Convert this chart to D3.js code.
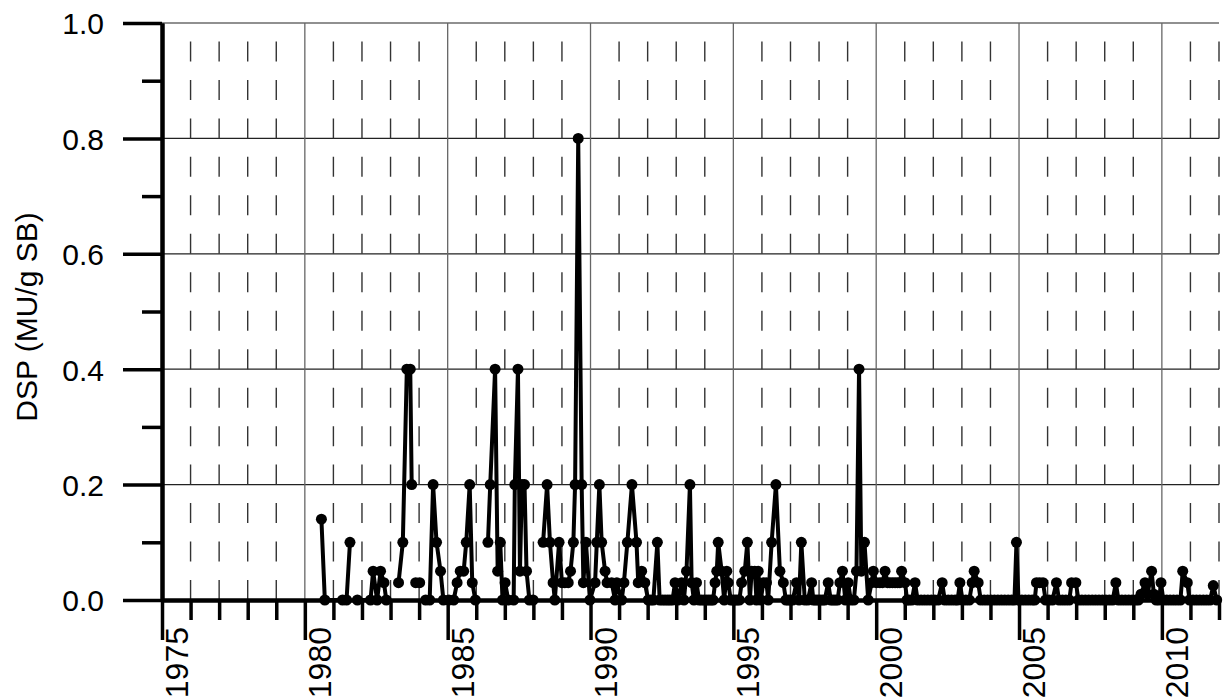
<!DOCTYPE html>
<html><head><meta charset="utf-8">
<script src="https://cdn.jsdelivr.net/npm/d3@7"></script>
<style>
html,body{margin:0;padding:0;background:#fff;}
text{font-family:"Liberation Sans",Arial,sans-serif;fill:#000;}
</style></head>
<body><svg id="chart" width="1227" height="698"></svg>
<script>
// ---- data: [decimal year, DSP (MU/g SB)]; null value = gap in the record ----
const early = [[1980.58,0.14],[1980.70,0],[1981.32,0],[1981.46,0],[1981.58,0.1],[1981.70,null],
[1981.84,0],[1982.30,0],[1982.39,0.05],[1982.53,0],[1982.65,0.05],[1982.77,0.03],[1982.85,0],[1983.00,null],
[1983.28,0.03],[1983.43,0.1],[1983.57,0.4],[1983.69,0.4],[1983.74,0.2],[1983.80,null],
[1983.88,0.03],[1984.02,0.03],[1984.10,null],
[1984.23,0],[1984.37,0],[1984.49,0.2],[1984.61,0.1],[1984.75,0.05],[1984.85,0],[1985.04,0],[1985.21,0],
[1985.33,0.03],[1985.44,0.05],[1985.56,0.05],[1985.65,0.1],[1985.77,0.2],[1985.86,0.03],[1985.97,0],[1986.20,null],
[1986.41,0.1],[1986.49,0.2],[1986.66,0.4],[1986.75,0.05],[1986.84,0.1],[1986.92,0],[1987.01,0.03],[1987.12,0],
[1987.31,0],[1987.35,0.2],[1987.46,0.4],[1987.53,0.05],[1987.60,0.2],[1987.69,0.2],[1987.76,0.05],[1987.86,0],
[1987.99,0],[1988.15,null]];
const middle = [[1988.34,0.1],[1988.48,0.2],[1988.58,0.1],[1988.69,0.03],[1988.75,0],[1988.90,0.1],[1989.00,0.03],
[1989.10,0.03],[1989.22,0.03],[1989.30,0.05],[1989.40,0.1],[1989.46,0.2],[1989.57,0.8],[1989.69,0.2],[1989.75,0.03],
[1989.84,0.1],[1989.98,0],[1990.16,0.03],[1990.22,0.1],[1990.31,0.2],[1990.39,0.1],[1990.51,0.05],[1990.58,0.03],
[1990.74,0.03],[1990.86,0],[1990.92,0.03],[1991.09,0],[1991.17,0.03],[1991.29,0.1],[1991.45,0.2],[1991.61,0.1],
[1991.67,0.03],[1991.79,0.05],[1991.90,0.03],[1992.02,0],[1992.11,0],[1992.20,0],[1992.34,0.1],[1992.42,0],
[1992.52,0],[1992.61,0],[1992.70,0],[1992.78,0],[1992.87,0],[1992.96,0.03],[1993.06,0],[1993.19,0.03],[1993.27,0],
[1993.36,0.05],[1993.48,0.2],[1993.54,0.03],[1993.62,0],[1993.71,0.03],[1993.80,0],[1993.89,0],[1993.98,0],
[1994.06,0],[1994.14,0],[1994.22,0],[1994.29,0],[1994.36,0.03],[1994.42,0.05],[1994.47,0.1],[1994.59,0.05],
[1994.68,0],[1994.77,0.05],[1994.82,0.03],[1994.91,0],[1994.99,0],[1995.06,0],[1995.13,0],[1995.21,0],
[1995.29,0.03],[1995.40,0.05],[1995.49,0.1],[1995.58,0],[1995.64,0.05],[1995.75,0.05],[1995.81,0],[1995.87,0.05],
[1995.96,0],[1996.05,0.03],[1996.16,0.03],[1996.22,0],[1996.34,0.1],[1996.49,0.2],[1996.63,0.05],[1996.75,0.03],
[1996.84,0],[1996.92,0],[1997.00,0],[1997.08,0],[1997.21,0.03],[1997.30,0],[1997.38,0.1],[1997.50,0],[1997.61,0],
[1997.74,0.03],[1997.80,0],[1997.88,0],[1997.96,0],[1998.04,0],[1998.12,0],[1998.20,0],[1998.32,0.03],[1998.41,0],
[1998.49,0],[1998.57,0],[1998.65,0],[1998.73,0.03],[1998.82,0.05],[1998.92,0],[1999.02,0.03],[1999.11,0],
[1999.22,0],[1999.31,0.05],[1999.40,0.4],[1999.48,0.05],[1999.59,0.1],[1999.72,0],[1999.84,0.03],[1999.90,0.05]];
const late = [[2000.01,0.03],[2000.13,0.03],[2000.22,0.03],[2000.31,0.05],[2000.40,0.03],[2000.48,0.03],
[2000.57,0.03],[2000.66,0.03],[2000.75,0.03],[2000.83,0.03],[2000.89,0.05],[2001.01,0.03],[2001.08,0],[2001.15,0],
[2001.25,0],[2001.36,0.03],[2001.45,0],[2001.57,0],[2001.69,0],[2001.81,0],[2001.93,0],[2002.05,0],[2002.17,0],
[2002.31,0.03],[2002.40,0],[2002.52,0],[2002.64,0],[2002.76,0],[2002.85,0],[2002.93,0.03],[2003.02,0],[2003.14,0],
[2003.26,0],[2003.36,0.03],[2003.43,0.05],[2003.57,0.03],[2003.66,0],[2003.78,0],[2003.90,0],[2004.02,0],
[2004.14,0],[2004.26,0],[2004.38,0],[2004.50,0],[2004.62,0],[2004.74,0],[2004.84,0],[2004.91,0.1],[2004.98,0],
[2005.10,0],[2005.22,0],[2005.34,0],[2005.46,0],[2005.55,0],[2005.61,0.03],[2005.72,0.03],[2005.84,0.03],
[2005.93,0],[2006.05,0],[2006.17,0],[2006.31,0.03],[2006.40,0],[2006.52,0],[2006.64,0],[2006.76,0],[2006.84,0.03],
[2006.99,0.03],[2007.08,0],[2007.20,0],[2007.32,0],[2007.44,0],[2007.56,0],[2007.68,0],[2007.80,0],[2007.92,0],
[2008.04,0],[2008.16,0],[2008.28,0],[2008.39,0.03],[2008.48,0],[2008.60,0],[2008.72,0],[2008.84,0],[2008.96,0],
[2009.08,0],[2009.18,0],[2009.27,0.01],[2009.41,0.03],[2009.50,0.01],[2009.64,0.05],[2009.72,0.01],[2009.80,0],
[2009.90,0],[2009.97,0.03],[2010.05,0],[2010.17,0],[2010.29,0],[2010.41,0],[2010.53,0],[2010.65,0],[2010.73,0.05],
[2010.89,0.03],[2010.97,0],[2011.09,0],[2011.21,0],[2011.33,0],[2011.45,0],[2011.57,0],[2011.69,0],[2011.80,0.025],
[2011.92,0]];

const majorYears = [1975,1980,1985,1990,1995,2000,2005,2010];
const minorYears = [1976,1977,1978,1979,1981,1982,1983,1984,1986,1987,1988,1989,1991,1992,1993,1994,
  1996,1997,1998,1999,2001,2002,2003,2004,2006,2007,2008,2009,2011,2012];
const majorY = [0,0.2,0.4,0.6,0.8,1.0];
const minorY = [0.1,0.3,0.5,0.7,0.9];
const yTitle = "DSP (MU/g SB)";

// ---- drawing ----
const svg = d3.select("#chart");
const x = d3.scaleLinear().domain([1975, 2012]).range([162, 1219]);
const y = d3.scaleLinear().domain([0, 1]).range([600, 23]);
const series = early.concat(middle, late);

const g = svg.append("g");
// horizontal grid
g.selectAll(".hg").data(majorY.filter(v => v > 0)).join("line")
  .attr("x1", x(1975)).attr("x2", x(2012)).attr("y1", d => y(d)).attr("y2", d => y(d))
  .attr("stroke", "#222").attr("stroke-width", 1.2);
// vertical major grid
g.selectAll(".vg").data(majorYears.filter(v => v > 1975)).join("line")
  .attr("x1", d => x(d)).attr("x2", d => x(d)).attr("y1", y(0)).attr("y2", y(1))
  .attr("stroke", "#666").attr("stroke-width", 1.3);
// vertical dashed minor grid (drawn upward from the zero line)
const period = (y(0) - y(1)) / 15;
g.selectAll(".vd").data(minorYears).join("path")
  .attr("d", d => `M${x(d)},${y(0)}L${x(d)},${y(1)}`)
  .attr("stroke", "#333").attr("stroke-width", 1.4)
  .attr("stroke-dasharray", `20,${period - 20}`);

// axes
const xMajor = svg.append("g").attr("transform", `translate(0,${y(0)})`)
  .call(d3.axisBottom(x).tickValues(majorYears).tickSize(40).tickSizeOuter(0).tickFormat(""));
const xMinor = svg.append("g").attr("transform", `translate(0,${y(0)})`)
  .call(d3.axisBottom(x).tickValues(minorYears).tickSize(20).tickSizeOuter(0).tickFormat(""));
const yMajor = svg.append("g").attr("transform", `translate(${x(1975)},0)`)
  .call(d3.axisLeft(y).tickValues(majorY).tickSize(39).tickSizeOuter(0).tickPadding(19)
    .tickFormat(d3.format(".1f")));
const yMinor = svg.append("g").attr("transform", `translate(${x(1975)},0)`)
  .call(d3.axisLeft(y).tickValues(minorY).tickSize(20).tickSizeOuter(0).tickFormat(""));
[xMajor, xMinor, yMajor, yMinor].forEach(a => {
  a.select(".domain").attr("stroke", "#000").attr("stroke-width", 4);
  a.selectAll(".tick line").attr("stroke", "#000").attr("stroke-width", 3.5);
});
yMajor.selectAll("text").attr("font-size", 30).attr("font-family", "Liberation Sans, Arial, sans-serif")
  .attr("fill", "#000").attr("dy", "0.36em");

// rotated year labels
svg.selectAll(".xl").data(majorYears).join("text")
  .attr("transform", d => `translate(${x(d) + 26},627) rotate(-90)`)
  .attr("text-anchor", "end").attr("font-size", 32).text(d => d);

// y title
svg.append("text").attr("transform", "translate(37,317) rotate(-90)")
  .attr("text-anchor", "middle").attr("font-size", 30).text(yTitle);

// line + markers
const line = d3.line().defined(d => d[1] != null).x(d => x(d[0])).y(d => y(d[1]));
svg.append("path").datum(series).attr("d", line)
  .attr("fill", "none").attr("stroke", "#000").attr("stroke-width", 4)
  .attr("stroke-linejoin", "round");
svg.selectAll(".pt").data(series.filter(d => d[1] != null)).join("circle")
  .attr("cx", d => x(d[0])).attr("cy", d => y(d[1])).attr("r", 5.5).attr("fill", "#000");
</script></body></html>
